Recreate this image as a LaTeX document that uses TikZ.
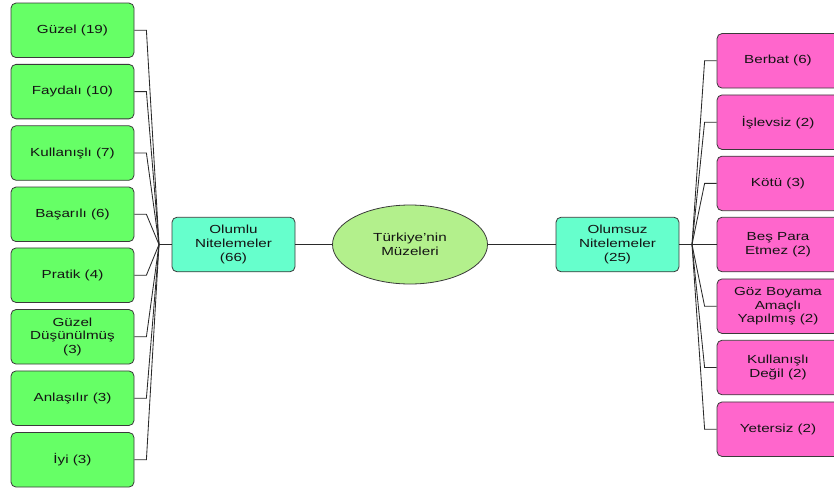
\documentclass[tikz,border=0pt]{standalone}
\usepackage{fontspec}
\setmainfont{Liberation Sans}[FakeStretch=1.3]
\usetikzlibrary{shapes.geometric}
\definecolor{posgreen}{HTML}{66FF66}
\definecolor{catteal}{HTML}{66FFCC}
\definecolor{centergreen}{HTML}{B3F08C}
\definecolor{negpink}{HTML}{FF66CC}
\definecolor{edgegray}{HTML}{3A3A3A}
\definecolor{linkgray}{HTML}{2A2A2A}
\tikzset{
  box/.style={draw=edgegray, line width=0.8pt, rounded corners=5pt, align=center,
    minimum width=123pt, minimum height=54.5pt, inner sep=1pt, text=black!92,
    font=\fontsize{11.7pt}{13.8pt}\selectfont},
  posbox/.style={box, fill=posgreen},
  catbox/.style={box, fill=catteal},
  negbox/.style={box, fill=negpink, minimum width=122pt},
  hub/.style={draw=edgegray, line width=0.8pt, ellipse, fill=centergreen, align=center,
    minimum width=155pt, minimum height=79pt, inner sep=0pt, text=black!92,
    font=\fontsize{11.7pt}{13.8pt}\selectfont},
  link/.style={draw=linkgray, line width=0.85pt},
}
\begin{document}
\begin{tikzpicture}[x=1pt, y=-1pt]
\useasboundingbox (0,0) rectangle (834,490);

% centre and the two category boxes
\node[hub] (hub) at (410,244.5) {Türkiye’nin\\Müzeleri};
\node[catbox] (pos) at (233.5,244.5) {Olumlu\\Nitelemeler\\(66)};
\node[catbox] (neg) at (617.5,244.5) {Olumsuz\\Nitelemeler\\(25)};

% positive attributes
\node[posbox] (p1) at (72.5,30.3)  {Güzel (19)};
\node[posbox] (p2) at (72.5,91.6)  {Faydalı (10)};
\node[posbox] (p3) at (72.5,153.0) {Kullanışlı (7)};
\node[posbox] (p4) at (72.5,214.3) {Başarılı (6)};
\node[posbox] (p5) at (72.5,275.2) {Pratik (4)};
\node[posbox] (p6) at (72.5,336.8) {Güzel\\Düşünülmüş\\(3)};
\node[posbox] (p7) at (72.5,398.2) {Anlaşılır (3)};
\node[posbox] (p8) at (72.5,459.8) {İyi (3)};

% negative attributes
\node[negbox] (n1) at (778,60.8)  {Berbat (6)};
\node[negbox] (n2) at (778,122.2) {İşlevsiz (2)};
\node[negbox] (n3) at (778,183.4) {Kötü (3)};
\node[negbox] (n4) at (778,244.5) {Beş Para\\Etmez (2)};
\node[negbox] (n5) at (778,306.2) {Göz Boyama\\Amaçlı\\Yapılmış (2)};
\node[negbox] (n6) at (778,367.5) {Kullanışlı\\Değil (2)};
\node[negbox] (n7) at (778,429.2) {Yetersiz (2)};

% junction points of the fans
\coordinate (lj) at (159,244.5);
\coordinate (rj) at (692,244.5);

% centre links
\draw[link] (pos.east) -- (hub.west);
\draw[link] (hub.east) -- (neg.west);
\draw[link] (lj) -- (pos.west);
\draw[link] (neg.east) -- (rj);

% left fan
\foreach \n in {p1,p2,p3,p4,p5,p6,p7,p8}
  \draw[link] (\n.east) -- ++(12,0) -- (lj);

% right fan
\foreach \n in {n1,n2,n3,n4,n5,n6,n7}
  \draw[link] (\n.west) -- ++(-12,0) -- (rj);
\end{tikzpicture}
\end{document}
